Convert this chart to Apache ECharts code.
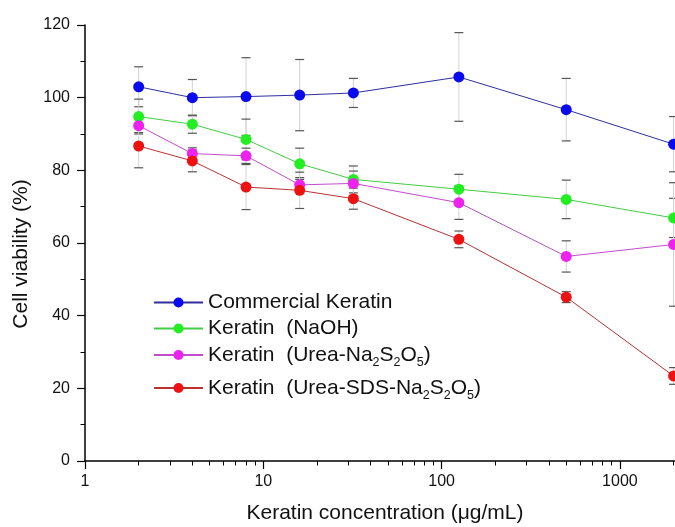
<!DOCTYPE html>
<html>
<head>
<meta charset="utf-8">
<script src="https://cdn.jsdelivr.net/npm/echarts@6/dist/echarts.min.js"></script>
<style>
  html, body { margin: 0; padding: 0; background: #ffffff; }
  #chart { width: 675px; height: 527px; }
</style>
</head>
<body>
<div id="chart"></div>
<script>
// Keratin concentrations tested (µg/mL)
const concentrations = [2, 4, 8, 16, 32, 125, 500, 2000];

// Mean cell viability (%) and standard deviation for each keratin source
const commercialMean = [103.0, 100.0, 100.3, 100.7, 101.3, 105.7, 96.7, 87.2];
const commercialSd   = [5.5, 5.0, 10.7, 9.8, 4.0, 12.2, 8.6, 7.6];
const naohMean       = [94.8, 92.7, 88.5, 81.8, 77.5, 74.8, 72.0, 66.9];
const naohSd         = [4.8, 2.5, 5.6, 4.3, 3.7, 4.1, 5.3, 5.4];
const ureaMean       = [92.3, 84.6, 84.0, 76.0, 76.4, 71.1, 56.3, 59.6];
const ureaSd         = [1.9, 1.6, 2.1, 2.0, 3.4, 4.6, 4.3, 17.0];
const ureaSdsMean    = [86.7, 82.6, 75.4, 74.5, 72.2, 61.0, 45.1, 23.4];
const ureaSdsSd      = [6.0, 3.0, 6.2, 5.0, 2.9, 2.3, 1.5, 2.3];

// Series names (digits in chemical formulas are drawn as subscripts)
const seriesNames = [
  'Commercial Keratin',
  'Keratin  (NaOH)',
  'Keratin  (Urea-Na2S2O5)',
  'Keratin  (Urea-SDS-Na2S2O5)'
];

// Axis ticks
const xMajorTicks = [1, 10, 100, 1000];
const xMinorTicks = [2, 3, 4, 5, 6, 7, 8, 9, 20, 30, 40, 50, 60, 70, 80, 90,
                     200, 300, 400, 500, 600, 700, 800, 900, 2000];
const yTicks = [0, 20, 40, 60, 80, 100, 120];

const FONT = '"Liberation Sans", Arial, sans-serif';
const markerColors = ['#0a0af0', '#22ee22', '#ee22ee', '#ee1111'];
const lineColors   = ['#2e2e9c', '#44cc44', '#c24ccc', '#b83232'];
const means = [commercialMean, naohMean, ureaMean, ureaSdsMean];
const sds   = [commercialSd, naohSd, ureaSd, ureaSdsSd];
const legendRowsY = [302, 328, 354, 387];

const chart = echarts.init(document.getElementById('chart'), null, { renderer: 'canvas' });

function pairs(values) {
  return concentrations.map((c, i) => [c, values[i]]);
}

function errorData(values, dev) {
  return concentrations.map((c, i) => [c, values[i], dev[i]]);
}

// Error bar: faint vertical stem with darker caps
function renderErrorBar(params, api) {
  const x = api.value(0), y = api.value(1), d = api.value(2);
  const top = api.coord([x, y + d]);
  const bot = api.coord([x, y - d]);
  const hw = 4.5;
  return {
    type: 'group',
    children: [
      { type: 'line', shape: { x1: top[0], y1: top[1], x2: bot[0], y2: bot[1] },
        style: { stroke: '#d2d2d2', lineWidth: 1 } },
      { type: 'line', shape: { x1: top[0] - hw, y1: top[1], x2: top[0] + hw, y2: top[1] },
        style: { stroke: '#555555', lineWidth: 1.2 } },
      { type: 'line', shape: { x1: bot[0] - hw, y1: bot[1], x2: bot[0] + hw, y2: bot[1] },
        style: { stroke: '#555555', lineWidth: 1.2 } }
    ]
  };
}

// Legend label: plain runs in "n", formula digits as subscripts in "s"
function legendLabel(name) {
  return ('{n|' + name.replace(/(\d)/g, '}{s|$1}{n|') + '}').replace(/\{n\|\}/g, '');
}

const series = [];
means.forEach((m, k) => {
  series.push({
    type: 'custom',
    name: seriesNames[k] + ' SD',
    renderItem: renderErrorBar,
    data: errorData(m, sds[k]),
    encode: { x: 0, y: 1 },
    z: 1,
    silent: true
  });
});
means.forEach((m, k) => {
  series.push({
    type: 'line',
    name: seriesNames[k],
    data: pairs(m),
    symbol: 'circle',
    symbolSize: 11,
    showSymbol: true,
    itemStyle: { color: markerColors[k] },
    lineStyle: { color: lineColors[k], width: 1 },
    z: 3,
    animation: false
  });
});

const legends = seriesNames.map((name, k) => ({
  data: [name],
  orient: 'vertical',
  left: 148,
  top: legendRowsY[k] - 15,
  itemWidth: 49,
  itemHeight: 12.5,
  selectedMode: false,
  formatter: legendLabel,
  textStyle: {
    color: '#111',
    rich: {
      n: { fontFamily: FONT, fontSize: 21, lineHeight: 22, color: '#111', verticalAlign: 'middle' },
      s: { fontFamily: FONT, fontSize: 12.5, lineHeight: 14, color: '#111',
           verticalAlign: 'top', padding: [12, 0, 0, 0] }
    }
  }
}));

const axisCommon = {
  type: 'log',
  logBase: 10,
  min: 1,
  max: 2318,
  gridIndex: 0
};

chart.setOption({
  animation: false,
  backgroundColor: '#ffffff',
  grid: { left: 85, right: -10, top: 25, bottom: 66, containLabel: false, outerBoundsMode: 'none' },
  legend: legends,
  xAxis: [
    Object.assign({}, axisCommon, {
      position: 'bottom',
      name: 'Keratin concentration (\u03bcg/mL)',
      nameLocation: 'middle',
      nameGap: 42,
      nameTextStyle: { fontFamily: FONT, fontSize: 21, color: '#111' },
      axisLine: { show: true, lineStyle: { color: '#000', width: 1.5 } },
      axisTick: { show: true, inside: false, length: 8, customValues: xMajorTicks,
                  lineStyle: { color: '#000', width: 1.2 } },
      axisLabel: { show: true, customValues: xMajorTicks, margin: 13,
                   fontFamily: FONT, fontSize: 16, color: '#111',
                   formatter: v => String(Math.round(v)) },
      splitLine: { show: false },
      minorTick: { show: false }
    }),
    Object.assign({}, axisCommon, {
      position: 'bottom',
      axisLine: { show: false },
      axisTick: { show: true, inside: false, length: 4.5, customValues: xMinorTicks,
                  lineStyle: { color: '#000', width: 1 } },
      axisLabel: { show: false },
      splitLine: { show: false }
    })
  ],
  yAxis: {
    type: 'value',
    min: 0,
    max: 120,
    interval: 20,
    name: 'Cell viability (%)',
    nameLocation: 'middle',
    nameGap: 53,
    nameTextStyle: { fontFamily: FONT, fontSize: 21, color: '#111', padding: [0, 22, 0, 0] },
    axisLine: { show: true, lineStyle: { color: '#000', width: 1.5 } },
    axisTick: { show: true, inside: false, length: 8, lineStyle: { color: '#000', width: 1.2 } },
    minorTick: { show: true, splitNumber: 2, length: 4.5, lineStyle: { color: '#000', width: 1 } },
    axisLabel: {
      margin: 15, fontFamily: FONT, fontSize: 16, color: '#111',
      formatter: v => (yTicks.indexOf(v) >= 0 ? String(v) : '')
    },
    splitLine: { show: false }
  },
  series: series
});
</script>
</body>
</html>
